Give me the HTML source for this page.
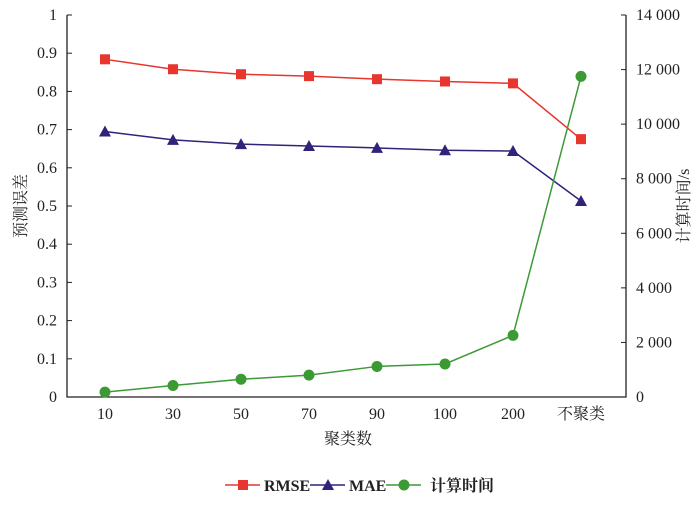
<!DOCTYPE html>
<html><head><meta charset="utf-8"><style>
body{margin:0;background:#fff}
text{font-family:"Liberation Serif","Noto Serif CJK SC",serif;font-size:16px;fill:#222}
</style></head><body>
<svg id="chart" width="700" height="502" xmlns="http://www.w3.org/2000/svg"></svg>
<script>
const categories=["10","30","50","70","90","100","200","不聚类"];
const rmse=[0.884,0.858,0.845,0.840,0.832,0.826,0.821,0.675];
const mae=[0.695,0.673,0.662,0.657,0.652,0.646,0.644,0.513];
const timeS=[180,420,650,800,1120,1210,2260,11750];
const leftTicks=[0,0.1,0.2,0.3,0.4,0.5,0.6,0.7,0.8,0.9,1];
const leftLabels=["0","0.1","0.2","0.3","0.4","0.5","0.6","0.7","0.8","0.9","1"];
const rightTicks=[0,2000,4000,6000,8000,10000,12000,14000];
const rightLabels=["0","2 000","4 000","6 000","8 000","10 000","12 000","14 000"];
const svg=document.getElementById('chart');
const NS="http://www.w3.org/2000/svg";
const X0=67,X1=626,Y0=397,Y1=15;
const xs=i=>105+i*68;
const yl=v=>Y0-(v/1)*(Y0-Y1);
const yr=v=>Y0-(v/14000)*(Y0-Y1);
function el(t,a,p){const e=document.createElementNS(NS,t);for(const k in a)e.setAttribute(k,a[k]);(p||svg).appendChild(e);return e;}
let ax=el('path',{d:`M${X0},${Y1}V${Y0}H${X1}V${Y1}`,fill:'none',stroke:'#222','stroke-width':1.3});


leftTicks.forEach((v,i)=>{
 el('line',{x1:X0,x2:X0+5,y1:yl(v),y2:yl(v),stroke:'#222'});
 const t=el('text',{x:X0-10,y:yl(v)+5,'text-anchor':'end'});t.textContent=leftLabels[i];
 
 
});
rightTicks.forEach((v,i)=>{
 el('line',{x1:X1-5,x2:X1,y1:yr(v),y2:yr(v),stroke:'#222'});
 const t=el('text',{x:X1+10,y:yr(v)+5});t.textContent=rightLabels[i];
 
 
});
categories.forEach((c,i)=>{
 const t=el('text',{x:xs(i),y:419,'text-anchor':'middle'});t.textContent=c;
 
 
});
let t=el('text',{x:348,y:444,'text-anchor':'middle'});t.textContent='聚类数';


t=el('text',{x:0,y:0,'text-anchor':'middle',transform:`translate(26,${(Y0+Y1)/2}) rotate(-90)`});t.textContent='预测误差';


t=el('text',{x:0,y:0,'text-anchor':'middle',transform:`translate(689,${(Y0+Y1)/2}) rotate(-90)`});t.textContent='计算时间/s';


function marker(type,x,y,c){
 if(type==='sq')return el('rect',{x:x-5,y:y-5,width:10,height:10,fill:c});
 if(type==='tri')return el('path',{d:`M${x},${y-6}L${x+6},${y+5}L${x-6},${y+5}Z`,fill:c});
 return el('circle',{cx:x,cy:y,r:5.5,fill:c});
}
function series(vals,yf,c,type,name){
 const p=el('polyline',{points:vals.map((v,i)=>xs(i)+','+yf(v)).join(' '),fill:'none',stroke:c,'stroke-width':1.5});
 
 
 vals.forEach((v,i)=>{const m=marker(type,xs(i),yf(v),c);
  
  });
}
series(rmse,yl,'#e8352e','sq','rmse');
series(mae,yl,'#2f237a','tri','mae');
series(timeS,yr,'#3c9a35','circ','time');
const leg=[['RMSE','#e8352e','sq',225],['MAE','#2f237a','tri',310],['计算时间','#3c9a35','circ',386]];
leg.forEach(([n,c,ty,x])=>{
 const l=el('line',{x1:x,x2:x+35,y1:485,y2:485,stroke:c,'stroke-width':1.5});
 
 
 marker(ty,x+18,485,c);
 const tt=el('text',{x:x+(ty==='circ'?44:39),y:491,'font-weight':'bold','font-size':'15px'});tt.textContent=n;
 
 
});
</script>
</body></html>
